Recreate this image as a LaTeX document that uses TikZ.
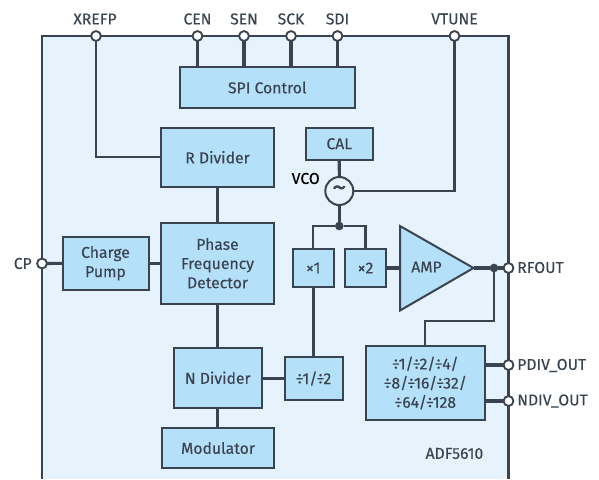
\documentclass[tikz,border=0pt]{standalone}
\usepackage{fontspec}
\setmainfont{Fira Sans}[FakeBold=0.25]
\definecolor{ink}{HTML}{3A4450}
\definecolor{chipfill}{HTML}{E6F3FC}
\definecolor{blockfill}{HTML}{B5E0F9}
\tikzset{
  px/.style={x=0.75pt,y=-0.75pt},
  sz/.style 2 args={minimum width=#1*0.75pt,minimum height=#2*0.75pt},
  blk/.style={draw=ink,fill=blockfill,line width=1.5pt,inner sep=0pt,outer sep=0pt,align=center,text=ink,font=\fontsize{11.8}{14.4}\selectfont},
  pin/.style={circle,draw=ink,fill=white,line width=1.4pt,minimum size=7.4pt,inner sep=0pt,outer sep=0pt},
  lbl/.style={text=ink,inner sep=0pt,font=\fontsize{11.8}{14}\selectfont},
  thick line/.style={draw=ink,line width=2.3pt},
  thin line/.style={draw=ink,line width=1.6pt},
  junction/.style={circle,fill=ink,minimum size=6.5pt,inner sep=0pt,outer sep=0pt},
}
\begin{document}
\begin{tikzpicture}[px]
\useasboundingbox (0,0) rectangle (599,479);
% chip body (open at the bottom edge of the picture)
\fill[chipfill] (42,36) rectangle (508.5,479);
\draw[ink,line width=1.6pt] (42,479) -- (42,36) -- (508.5,36) -- (508.5,479);

% blocks
\node[blk,sz={175.5}{41}] (spi) at (267.25,87.5) {SPI Control};
\node[blk,sz={113}{59.5}] (rdiv) at (217.5,157.25) {R Divider};
\node[blk,sz={113}{80.5}] (pfd) at (217.5,263.25) {Phase\\Frequency\\Detector};
\node[blk,sz={86}{53.5}] (pump) at (105.5,263.25) {Charge\\Pump};
\node[blk,sz={88.5}{59.5}] (ndiv) at (217.75,377.75) {N Divider};
\node[blk,sz={112}{40}] (mod) at (218,448) {Modulator};
\node[blk,sz={58}{43}] (div12) at (313.5,378.5) {÷1/÷2};
\node[blk,sz={40.5}{38}] (x1) at (313.25,268) {×1};
\node[blk,sz={41}{38}] (x2) at (365.5,268) {×2};
\node[blk,sz={67.5}{32.5}] (cal) at (339.25,143.75) {CAL};
\node[blk,sz={119}{74}] (outdiv) at (425.25,383) {÷1/÷2/÷4/\\÷8/÷16/÷32/\\÷64/÷128};
\node[blk,circle,fill=chipfill,minimum size=21pt,font=\fontsize{22}{22}\selectfont] (vco) at (339.3,191) {\raisebox{0pt}{\char`~}};

% amplifier
\draw[ink,fill=blockfill,line width=1.5pt,line join=miter] (400,226) -- (473.5,268) -- (400,310.5) -- cycle;
\coordinate (ampin) at (400,268);
\coordinate (ampout) at (473.5,268);
\node[lbl] (amp) at (426.5,267) {AMP};

% junctions
\node[junction] (jvco) at (339.3,226) {};
\node[junction] (jrf) at (494,268) {};
\coordinate (jrfturn) at (494,321);
\coordinate (jdivturn) at (425.25,321);

% pins
\node[pin] (xrefp) at (96,36) {};
\node[pin] (cen) at (197.5,36) {};
\node[pin] (sen) at (244,36) {};
\node[pin] (sck) at (291,36) {};
\node[pin] (sdi) at (337.5,36) {};
\node[pin] (vtune) at (454.5,36) {};
\node[pin] (cp) at (42,263.5) {};
\node[pin] (rfout) at (508.5,268) {};
\node[pin] (pdiv) at (508.5,365) {};
\node[pin] (ndivo) at (508.5,401) {};

% connectors
\draw[thick line] (cen) -- (cen |- spi.north);
\draw[thick line] (sen) -- (sen |- spi.north);
\draw[thick line] (sck) -- (sck |- spi.north);
\draw[thick line] (sdi) -- (sdi |- spi.north);
\draw[thin line] (xrefp) |- (rdiv.west);
\draw[thin line] (vtune) |- (vco.east);
\draw[thick line] (rdiv) -- (pfd);
\draw[thick line] (cp) -- (pump);
\draw[thick line] (pump) -- (pfd);
\draw[thick line] (pfd) -- (pfd.south |- ndiv.north);
\draw[thick line] (ndiv) -- (ndiv.south |- mod.north);
\draw[thick line] (ndiv.east |- div12) -- (div12);
\draw[thick line] (x1) -- (x1 |- div12.north);
\draw[thick line] (cal) -- (vco);
\draw[thick line] (vco) -- (jvco);
\draw[thin line] (x1.north) |- (jvco) -| (x2.north);
\draw[thick line] (x2) -- (ampin);
\draw[thick line] (ampout) -- (jrf) -- (rfout);
\draw[thin line] (jrf) -- (jrfturn) -- (jdivturn) -- (outdiv.north);
\draw[thick line] (outdiv.east |- pdiv) -- (pdiv);
\draw[thick line] (outdiv.east |- ndivo) -- (ndivo);

% labels
\node[lbl] (lxrefp) at (95,19) {XREFP};
\node[lbl] (lcen) at (197.5,19) {CEN};
\node[lbl] (lsen) at (244,19) {SEN};
\node[lbl] (lsck) at (291,19) {SCK};
\node[lbl] (lsdi) at (337.5,19) {SDI};
\node[lbl] (lvtune) at (454.5,19) {VTUNE};
\node[lbl,anchor=east] (lcp) at (32,263.5) {CP};
\node[lbl,anchor=west] (lrf) at (517,267.5) {RFOUT};
\node[lbl,anchor=west] (lpdiv) at (517,365.5) {PDIV\_OUT};
\node[lbl,anchor=west] (lndiv) at (517,401) {NDIV\_OUT};
\node[lbl,text=black,anchor=east] (lvco) at (320,178.5) {VCO};
\node[lbl,anchor=east] (lpart) at (483.5,453.5) {ADF5610};
\end{tikzpicture}
\end{document}
